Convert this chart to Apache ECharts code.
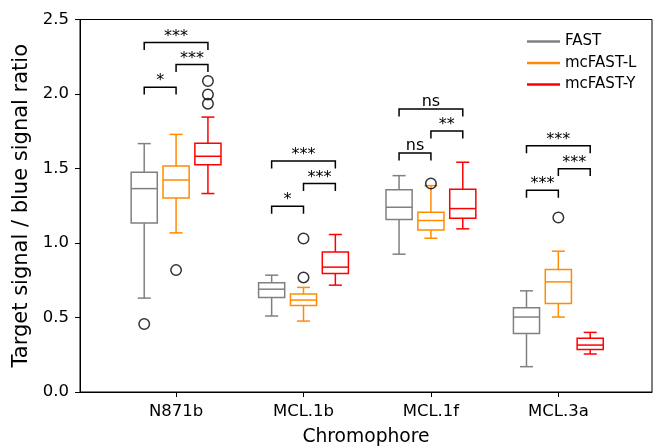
<!DOCTYPE html>
<html>
<head>
<meta charset="utf-8">
<script src="https://cdn.jsdelivr.net/npm/echarts@6/dist/echarts.min.js"></script>
<style>
html, body { margin: 0; padding: 0; background: #fff; }
#chart { width: 653px; height: 446px; }
</style>
</head>
<body>
<div id="chart"></div>
<script>
// values
const categories = ['N871b', 'MCL.1b', 'MCL.1f', 'MCL.3a'];
const groups = ['FAST', 'mcFAST-L', 'mcFAST-Y'];
const colors = ['#808080', '#ff8c00', '#ff0000'];

// [low whisker, Q1, median, Q3, high whisker] per chromophore
const fastBoxes = [
  [0.63, 1.135, 1.365, 1.475, 1.667],
  [0.51, 0.634, 0.690, 0.733, 0.784],
  [0.925, 1.157, 1.240, 1.358, 1.452],
  [0.170, 0.393, 0.503, 0.565, 0.679]
];
const mcfastLBoxes = [
  [1.068, 1.302, 1.423, 1.517, 1.729],
  [0.476, 0.581, 0.617, 0.657, 0.702],
  [1.032, 1.088, 1.151, 1.206, 1.385],
  [0.503, 0.594, 0.739, 0.822, 0.945]
];
const mcfastYBoxes = [
  [1.332, 1.526, 1.582, 1.669, 1.845],
  [0.717, 0.795, 0.838, 0.940, 1.057],
  [1.095, 1.166, 1.231, 1.361, 1.542],
  [0.255, 0.286, 0.315, 0.360, 0.400]
];

// fliers per chromophore
const fastOutliers = [[0.456], [], [], []];
const mcfastLOutliers = [[0.818], [1.030, 0.769], [1.399], [1.171]];
const mcfastYOutliers = [[2.087, 1.997, 1.935], [], [], []];

// significance brackets: chromophore, from group, to group, height, label
const bracketCats = [0, 0, 0, 1, 1, 1, 2, 2, 2, 3, 3, 3];
const bracketFrom = [0, 1, 0, 0, 1, 0, 0, 1, 0, 0, 1, 0];
const bracketTo = [1, 2, 2, 1, 2, 2, 1, 2, 2, 1, 2, 2];
const bracketLevels = [2.046, 2.198, 2.346, 1.247, 1.399, 1.550, 1.604, 1.752, 1.899, 1.354, 1.499, 1.653];
const bracketLabels = ['*', '***', '***', '*', '***', '***', 'ns', '**', 'ns', '***', '***', '***'];

const OFFSET = 0.25;   // group offset inside a chromophore
const BOX_W = 0.205;   // box width in x units
const TICK_H = 0.05;   // bracket leg height in y units
const FONT = 'DejaVu Sans';

const pos = (cat, g) => cat + (g - 1) * OFFSET;

function boxData(boxes, g) {
  return boxes.map((b, i) => [pos(i, g)].concat(b));
}

function outlierData() {
  const out = [];
  [fastOutliers, mcfastLOutliers, mcfastYOutliers].forEach((list, g) => {
    list.forEach((vals, i) => vals.forEach(v => out.push([pos(i, g), v])));
  });
  return out;
}

function renderBox(params, api) {
  const x = api.value(0);
  const w = api.size([BOX_W, 0])[0];
  const p = [1, 2, 3, 4, 5].map(d => api.coord([x, api.value(d)]));
  const cx = p[0][0];
  const color = api.visual('color');
  const st = () => ({ stroke: color, lineWidth: 1.5, fill: 'none' });
  const seg = (x1, y1, x2, y2) => ({ type: 'line', shape: { x1, y1, x2, y2 }, style: st() });
  return {
    type: 'group',
    children: [
      { type: 'rect', shape: { x: cx - w / 2, y: p[3][1], width: w, height: p[1][1] - p[3][1] }, style: st() },
      seg(cx - w / 2, p[2][1], cx + w / 2, p[2][1]),
      seg(cx, p[1][1], cx, p[0][1]),
      seg(cx, p[3][1], cx, p[4][1]),
      seg(cx - w / 4, p[0][1], cx + w / 4, p[0][1]),
      seg(cx - w / 4, p[4][1], cx + w / 4, p[4][1])
    ]
  };
}

function renderBracket(params, api) {
  const a = api.coord([api.value(0), api.value(2)]);
  const b = api.coord([api.value(1), api.value(2)]);
  const h = api.size([0, TICK_H])[1];
  const label = bracketLabels[params.dataIndex];
  return {
    type: 'group',
    children: [
      {
        type: 'polyline',
        shape: { points: [[a[0], a[1] + h], [a[0], a[1]], [b[0], b[1]], [b[0], b[1] + h]] },
        style: { stroke: '#000', lineWidth: 1.5, fill: 'none' }
      },
      {
        type: 'text',
        x: (a[0] + b[0]) / 2,
        y: a[1] + (label === 'ns' ? 0.5 : 2),
        style: {
          text: label,
          fontSize: 16, fontFamily: FONT, fill: '#000',
          align: 'center', verticalAlign: 'bottom'
        }
      }
    ]
  };
}

const bracketData = bracketCats.map((c, i) =>
  [pos(c, bracketFrom[i]), pos(c, bracketTo[i]), bracketLevels[i]]);

const chart = echarts.init(document.getElementById('chart'));
chart.setOption({
  animation: false,
  textStyle: { fontFamily: FONT },
  grid: {
    left: 80, right: 1, top: 19.5, bottom: 54,
    outerBoundsMode: 'none',
    containLabel: false,
    show: true, borderColor: '#000', borderWidth: 1
  },
  legend: {
    orient: 'vertical',
    left: 522, top: 29,
    itemWidth: 33, itemHeight: 2.5, itemGap: 6.5,
    textStyle: { fontSize: 15, color: '#000', fontFamily: FONT },
    data: groups.map(n => ({ name: n, icon: 'rect' }))
  },
  xAxis: {
    type: 'value',
    min: -0.754, max: 3.735,
    name: 'Chromophore',
    nameLocation: 'middle',
    nameGap: 36,
    nameTextStyle: { fontSize: 18.7, color: '#000', fontFamily: FONT },
    axisLine: { show: true, onZero: false, lineStyle: { color: '#000', width: 1 } },
    axisTick: { show: true, length: 5, customValues: [0, 1, 2, 3], lineStyle: { color: '#000' } },
    axisLabel: {
      customValues: [0, 1, 2, 3],
      formatter: v => categories[Math.round(v)],
      fontSize: 16.5, color: '#000', margin: 11
    },
    splitLine: { show: false }
  },
  yAxis: {
    type: 'value',
    min: 0, max: 2.5, interval: 0.5,
    name: 'Target signal / blue signal ratio',
    nameLocation: 'middle',
    nameGap: 36,
    nameTextStyle: { fontSize: 21, color: '#000', fontFamily: FONT },
    axisLine: { show: true, onZero: false, lineStyle: { color: '#000', width: 1 } },
    axisTick: { show: true, length: 5, lineStyle: { color: '#000' } },
    axisLabel: { formatter: v => v.toFixed(1), fontSize: 16.5, color: '#000', margin: 11 },
    splitLine: { show: false }
  },
  series: [
    { name: groups[0], type: 'custom', renderItem: renderBox, itemStyle: { color: colors[0] },
      encode: { x: 0, y: [1, 2, 3, 4, 5] }, data: boxData(fastBoxes, 0) },
    { name: groups[1], type: 'custom', renderItem: renderBox, itemStyle: { color: colors[1] },
      encode: { x: 0, y: [1, 2, 3, 4, 5] }, data: boxData(mcfastLBoxes, 1) },
    { name: groups[2], type: 'custom', renderItem: renderBox, itemStyle: { color: colors[2] },
      encode: { x: 0, y: [1, 2, 3, 4, 5] }, data: boxData(mcfastYBoxes, 2) },
    {
      name: 'outliers', type: 'scatter', symbol: 'circle', symbolSize: 10.5,
      itemStyle: { color: 'rgba(0,0,0,0)', borderColor: '#000', borderWidth: 1.5 },
      data: outlierData()
    },
    {
      name: 'significance', type: 'custom', renderItem: renderBracket,
      encode: { x: [0, 1], y: 2 }, data: bracketData
    }
  ]
});
</script>
</body>
</html>
